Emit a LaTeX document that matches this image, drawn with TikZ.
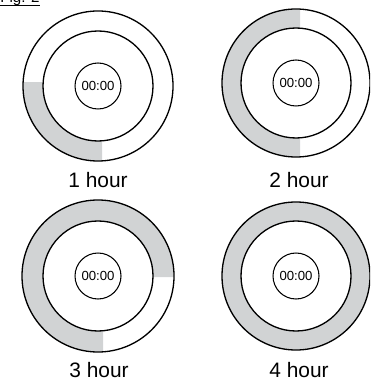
\documentclass[tikz,border=0pt]{standalone}
\usepackage{fontspec}
\setmainfont{Liberation Sans}
\usetikzlibrary{positioning}
\definecolor{ringgray}{RGB}{209,211,212}

\begin{document}
\begin{tikzpicture}[
x=0.02cm,y=-0.02cm,
ring/.style={draw,line width=0.75pt},
ringfill/.style={fill=ringgray,even odd rule},
display/.style={draw,circle,line width=0.6pt,minimum size=0.92cm,inner sep=0pt,font=\fontsize{7.5}{9}\selectfont},
hourlabel/.style={anchor=base,inner sep=0pt,font=\fontsize{11.9}{14}\selectfont}]
\clip (0,0) rectangle (370,381);
\node (figlabel) [anchor=base west,inner sep=0pt,font=\fontsize{8.6}{10}\selectfont] at (0,2.8) {Fig. 2};
\draw[line width=0.5pt] ([yshift=-1.3pt]figlabel.base west) -- ([yshift=-1.3pt]figlabel.base east);
% clock faces
\node (clock1) [display] at (98,86) {00:00};
\node (clock2) [display] at (296,83) {00:00};
\node (clock3) [display] at (98,276) {00:00};
\node (clock4) [display] at (296,276) {00:00};
% grey part of each ring
\begin{scope}
\clip (0,83) rectangle (102,190);
\fill[ringfill] (clock1.center) circle[radius=75] (clock1.center) circle[radius=55];
\end{scope}
\begin{scope}
\clip (190,0) rectangle (300,190);
\fill[ringfill] (clock2.center) circle[radius=74] (clock2.center) circle[radius=55];
\end{scope}
\begin{scope}
\clip (0,190) -- (370,190) -- (370,277) -- (103,277) -- (103,381) -- (0,381) -- cycle;
\fill[ringfill] (clock3.center) circle[radius=76] (clock3.center) circle[radius=55];
\end{scope}
\fill[ringfill] (clock4.center) circle[radius=74] (clock4.center) circle[radius=55];
% rings
\draw[ring] (clock1.center) circle[radius=75] (clock1.center) circle[radius=55];
\draw[ring] (clock2.center) circle[radius=74] (clock2.center) circle[radius=55];
\draw[ring] (clock3.center) circle[radius=76] (clock3.center) circle[radius=55];
\draw[ring] (clock4.center) circle[radius=74] (clock4.center) circle[radius=55];
\node (hour1) [hourlabel] at (98,188) {1 hour};
\node (hour2) [hourlabel] at (299,188) {2 hour};
\node (hour3) [hourlabel] at (99,377) {3 hour};
\node (hour4) [hourlabel] at (299,377) {4 hour};
\end{tikzpicture}
\end{document}
